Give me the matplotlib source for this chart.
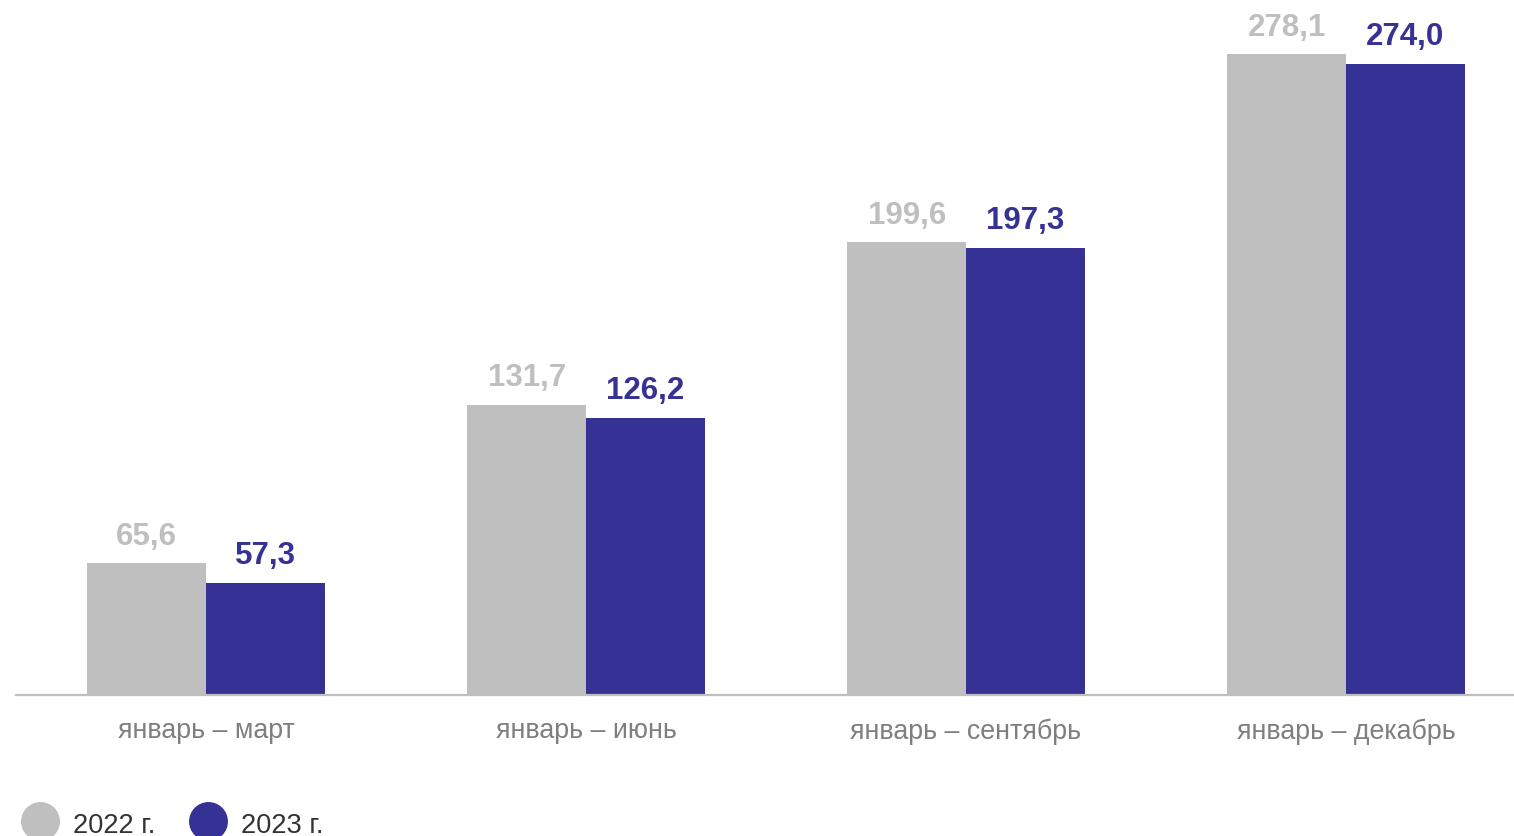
import matplotlib.pyplot as plt
from matplotlib.lines import Line2D
import numpy as np

plt.rcParams['font.family'] = ['Liberation Sans', 'DejaVu Sans']

# data
periods = ['январь – март', 'январь – июнь', 'январь – сентябрь', 'январь – декабрь']
series_names = ['2022 г.', '2023 г.']
values_2022 = [65.6, 131.7, 199.6, 278.1]
values_2023 = [57.3, 126.2, 197.3, 274.0]

gray = '#BFBFBF'
navy = '#363194'

fig = plt.figure(figsize=(15.14, 8.37), dpi=100)
ax = fig.add_axes([16 / 1514, 1 - 696 / 837, 1 - 16 / 1514, 696 / 837])

x = np.arange(len(periods))
w = 0.312

bars1 = ax.bar(x - w / 2, values_2022, width=w, color=gray, zorder=2)
bars2 = ax.bar(x + w / 2, values_2023, width=w, color=navy, zorder=2)

def fmt(v):
    return f'{v:.1f}'.replace('.', ',')

for bars, vals, col in [(bars1, values_2022, gray), (bars2, values_2023, navy)]:
    for b, v in zip(bars, vals):
        ax.annotate(fmt(v), (b.get_x() + b.get_width() / 2, v),
                    xytext=(0, 14), textcoords='offset points',
                    ha='center', va='baseline', fontsize=22.5,
                    fontweight='bold', color=col)

ax.set_xlim(-0.5, 3.442)
ax.set_ylim(10.5, 301.1)

for s in ['top', 'right', 'left']:
    ax.spines[s].set_visible(False)
ax.spines['bottom'].set_color(gray)
ax.spines['bottom'].set_linewidth(1.6)
ax.set_yticks([])
ax.set_xticks(x)
ax.set_xticklabels(periods, fontsize=19.3, color='#7F7F7F')
ax.tick_params(axis='x', length=0, pad=16)

# legend drawn by hand at the bottom left
leg_colors = [gray, navy]
leg_x = [40, 208]
for name, col, cx in zip(series_names, leg_colors, leg_x):
    fig.add_artist(Line2D([cx / 1514], [1 - 822 / 837], marker='o',
                          markersize=27, color=col, linestyle='none',
                          transform=fig.transFigure))
    fig.text((cx + 33) / 1514, 1 - 833 / 837, name, fontsize=19.6,
             color='#333333', ha='left', va='baseline')

fig.savefig('out.png', dpi=100)
